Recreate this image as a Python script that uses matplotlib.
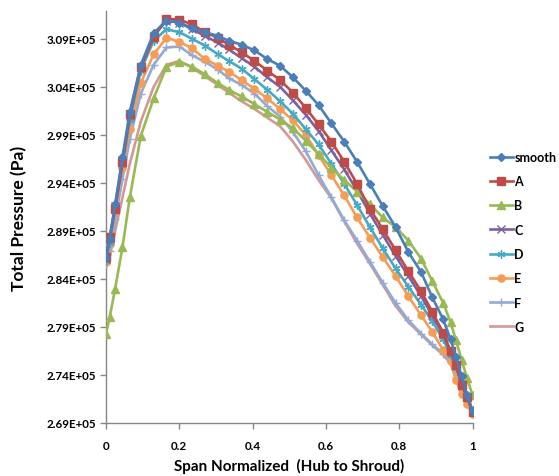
import matplotlib
matplotlib.use("Agg")
import matplotlib.pyplot as plt
from matplotlib.ticker import FixedLocator, FuncFormatter

span = [0, 0.01, 0.025, 0.045, 0.065, 0.095, 0.13, 0.165, 0.2, 0.235, 0.27, 0.305,
        0.335, 0.37, 0.405, 0.44, 0.475, 0.51, 0.545, 0.58, 0.615, 0.65, 0.685,
        0.72, 0.755, 0.79, 0.825, 0.86, 0.89, 0.92, 0.94, 0.955, 0.97, 0.985, 1.0]

smooth = [286300, 288200, 291800, 296700, 301400, 306300, 309600, 310900, 310700, 310100,
          309700, 309300, 308800, 308400, 307800, 306900, 306200, 305000, 303600, 302100,
          300200, 298300, 296200, 293900, 291600, 289400, 286800, 284700, 282100, 279800,
          277700, 275900, 273900, 271900, 270200]
series_a = [286300, 288400, 291300, 296200, 301200, 306100, 309200, 311100, 311000, 310500,
            309700, 309100, 308400, 307600, 306700, 305700, 304700, 303400, 301800, 300100,
            298300, 296200, 293900, 291300, 289200, 287000, 284800, 282700, 280600, 278400,
            276500, 275000, 273000, 271700, 270100]
series_b = [278300, 280000, 283000, 287300, 292500, 298900, 302800, 306100, 306600, 306100,
            305300, 304400, 303700, 303000, 302200, 301400, 300600, 299700, 298400, 297000,
            295600, 294300, 293100, 291800, 290400, 289400, 288000, 286100, 283800, 281500,
            279500, 277600, 275600, 273700, 271900]
series_c = [286100, 288200, 291600, 296300, 301000, 306100, 309300, 310900, 310700, 310000,
            309300, 308600, 307900, 307000, 306100, 305000, 304000, 302600, 301100, 299400,
            297400, 295400, 293200, 290800, 288600, 286400, 284300, 282200, 280200, 278200,
            276500, 275000, 273200, 271700, 270200]
series_d = [285900, 287700, 291300, 295900, 300500, 305700, 308800, 310000, 309700, 309000,
            308300, 307400, 306700, 305900, 304800, 303700, 302500, 301200, 299600, 298000,
            296000, 293900, 291700, 289400, 287200, 285100, 283200, 281300, 279600, 277700,
            276100, 274700, 273200, 271700, 270400]
series_e = [285800, 287600, 291100, 295600, 299600, 304400, 307400, 309100, 308700, 308000,
            306900, 306200, 305600, 304700, 303800, 302800, 301700, 300500, 299000, 296900,
            294800, 292700, 290400, 288300, 286300, 284300, 282200, 280200, 278500, 276600,
            275500, 273500, 272000, 271000, 269900]
series_f = [285600, 286900, 290200, 294400, 298600, 303300, 306300, 308100, 308200, 307300,
            306600, 305800, 304900, 304200, 303300, 302000, 300900, 299300, 297300, 294800,
            292500, 290100, 288000, 285800, 283600, 281500, 279700, 278300, 277200, 276200,
            275400, 273800, 272400, 271300, 270400]
series_g = [285200, 286300, 289000, 292500, 296000, 300400, 304000, 306300, 306700, 306000,
            305100, 304200, 303400, 302500, 301700, 300800, 299900, 298300, 296400, 294300,
            292400, 290000, 287700, 285600, 283400, 281200, 279500, 278200, 277100, 276100,
            275200, 273600, 272200, 271100, 270400]

labels = ["smooth", "A", "B", "C", "D", "E", "F", "G"]
y_ticks = [269000, 274000, 279000, 284000, 289000, 294000, 299000, 304000, 309000]
x_ticks = [0, 0.2, 0.4, 0.6, 0.8, 1.0]

colors = ["#4A7EBB", "#BE4B48", "#98B954", "#7D60A0", "#46AAC5", "#F59D56", "#93ABD4", "#D49796"]
markers = ["D", "s", "^", "x", (6, 2, 0), "o", "+", None]
msizes = [4.0, 5.2, 5.2, 5.2, 5.8, 5.2, 5.2, 0]

FONT = "Lato"
fig = plt.figure(figsize=(5.59, 4.77), dpi=100)
ax = fig.add_axes([106 / 559, 53 / 477, 366.5 / 559, 412 / 477])

data = [smooth, series_a, series_b, series_c, series_d, series_e, series_f, series_g]
for i, (lab, ys) in enumerate(zip(labels, data)):
    ax.plot(span, ys, color=colors[i], lw=1.9, marker=markers[i], ms=msizes[i],
            mew=1.0, label=lab, zorder=10 - i if i != 1 else 9.5)

ax.set_xlim(0, 1)
ax.set_ylim(269000, 311900)
ax.yaxis.set_major_locator(FixedLocator(y_ticks))
ax.xaxis.set_major_locator(FixedLocator(x_ticks))
ax.yaxis.set_major_formatter(FuncFormatter(lambda v, p: "{:.2E}".format(v)))
ax.xaxis.set_major_formatter(FuncFormatter(lambda v, p: "{:g}".format(v)))
for s in ["top", "right"]:
    ax.spines[s].set_visible(False)
for s in ["left", "bottom"]:
    ax.spines[s].set_color("#868686")
    ax.spines[s].set_linewidth(1.0)
ax.tick_params(axis="both", colors="#868686", length=4, width=1.0, direction="out")
ax.tick_params(axis="x", pad=8)
ax.tick_params(axis="y", pad=3)
for t in ax.get_xticklabels() + ax.get_yticklabels():
    t.set_fontfamily(FONT)
    t.set_fontweight("bold")
    t.set_fontsize(8.4)
    t.set_color("black")

ax.set_xlabel("Span Normalized  (Hub to Shroud)", fontfamily=FONT, fontweight="bold",
              fontsize=11, labelpad=5)
ax.set_ylabel("Total Pressure (Pa)", fontfamily=FONT, fontweight="bold", fontsize=12.5,
              labelpad=14)

leg = fig.legend(loc="upper left", bbox_to_anchor=(490 / 559, 1 - 152 / 477), frameon=False,
                 prop={"family": FONT, "weight": "bold", "size": 9}, handlelength=1.8,
                 handletextpad=0.15, labelspacing=0.98, borderaxespad=0, borderpad=0)

fig.savefig("out.png", dpi=100)
